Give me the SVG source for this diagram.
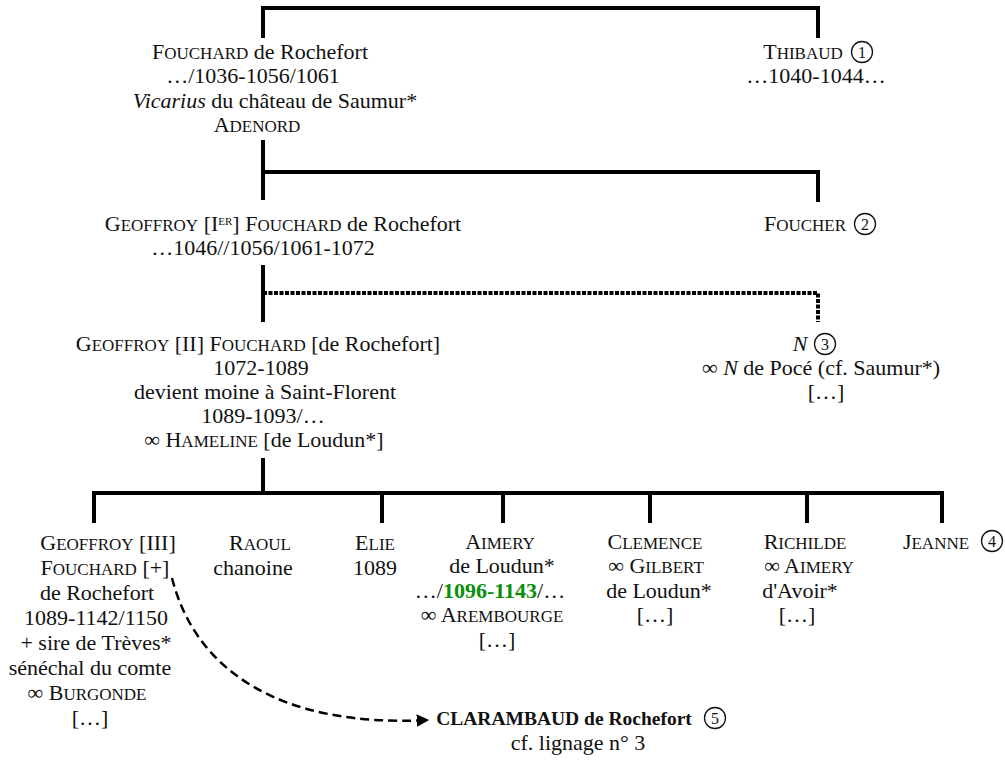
<svg xmlns="http://www.w3.org/2000/svg" width="1005" height="760" viewBox="0 0 1005 760">
<defs>
<style>
text{font-family:"Liberation Serif","Times New Roman",serif;font-size:22px;fill:#111;text-anchor:middle}
.sc{font-size:17px}
.l{fill:none;stroke:#000;stroke-width:4}
.dot{fill:none;stroke:#000;stroke-width:4;stroke-dasharray:4 1.5}
.arr{fill:none;stroke:#000;stroke-width:2.5;stroke-dasharray:9 5}
.c{fill:none;stroke:#111;stroke-width:1.3}
text.cn{font-size:16px}
text.b{font-size:19.5px;font-weight:bold}
.g{fill:#0a8f0a;font-weight:bold}
</style>
<marker id="ah" viewBox="0 0 10 10" refX="9" refY="5" markerWidth="5" markerHeight="5" orient="auto" markerUnits="strokeWidth">
<path d="M0,0 L10,5 L0,10 z" fill="#000"/>
</marker>
</defs>
<rect width="1005" height="760" fill="#fff"/>
<g id="connectors">
<path class="l" d="M263,38 V8 H818 V38"/>
<path class="l" d="M263,140 V200 M263,172 H818 V202"/>
<path class="l" d="M263,265 V322"/>
<path class="dot" d="M263,293 H818 V322"/>
<path class="l" d="M263,458 V493 M94,523 V493 H942 V523 M382,493 V523 M503,493 V523 M650,493 V523 M807,493 V523"/>
<path class="arr" d="M172,578 C195,670 280,728 428,720" marker-end="url(#ah)"/>
</g>
<g id="n-fouchard">
<text x="260" y="59">F<tspan class="sc">OUCHARD</tspan> de Rochefort</text>
<text x="253" y="83">…/1036-1056/1061</text>
<text x="275" y="108"><tspan font-style="italic">Vicarius</tspan> du château de Saumur*</text>
<text x="257" y="132">A<tspan class="sc">DENORD</tspan></text>
</g>
<g id="n-thibaud">
<text x="803" y="59">T<tspan class="sc">HIBAUD</tspan></text>
<circle class="c" cx="862" cy="52" r="10.5"/><text class="cn" x="862" y="58">1</text>
<text x="816" y="83">…1040-1044…</text>
</g>
<g id="n-geoffroy1">
<text x="283" y="231">G<tspan class="sc">EOFFROY</tspan> [I<tspan font-size="11" baseline-shift="6">ER</tspan>] F<tspan class="sc">OUCHARD</tspan> de Rochefort</text>
<text x="263" y="255">…1046//1056/1061-1072</text>
</g>
<g id="n-foucher">
<text x="805" y="231">F<tspan class="sc">OUCHER</tspan></text>
<circle class="c" cx="865" cy="224" r="10.5"/><text class="cn" x="865" y="230">2</text>
</g>
<g id="n-geoffroy2">
<text x="258" y="351">G<tspan class="sc">EOFFROY</tspan> [II] F<tspan class="sc">OUCHARD</tspan> [de Rochefort]</text>
<text x="261" y="375">1072-1089</text>
<text x="265" y="399">devient moine à Saint-Florent</text>
<text x="263" y="423">1089-1093/…</text>
<text x="264" y="447">∞ H<tspan class="sc">AMELINE</tspan> [de Loudun*]</text>
</g>
<g id="n-n">
<text x="800" y="351" font-style="italic">N</text>
<circle class="c" cx="825" cy="344" r="10.5"/><text class="cn" x="825" y="350">3</text>
<text x="821" y="375">∞ <tspan font-style="italic">N</tspan> de Pocé (cf. Saumur*)</text>
<text x="826" y="399">[…]</text>
</g>
<g id="n-geoffroy3">
<text x="108" y="550">G<tspan class="sc">EOFFROY</tspan> [III]</text>
<text x="105" y="575">F<tspan class="sc">OUCHARD</tspan> [+]</text>
<text x="97" y="600">de Rochefort</text>
<text x="96" y="625">1089-1142/1150</text>
<text x="96" y="650">+ sire de Trèves*</text>
<text x="90" y="675">sénéchal du comte</text>
<text x="87" y="700">∞ B<tspan class="sc">URGONDE</tspan></text>
<text x="90" y="725">[…]</text>
</g>
<g id="n-raoul">
<text x="260" y="550">R<tspan class="sc">AOUL</tspan></text>
<text x="253" y="575">chanoine</text>
</g>
<g id="n-elie">
<text x="375" y="550">E<tspan class="sc">LIE</tspan></text>
<text x="375" y="575">1089</text>
</g>
<g id="n-aimery">
<text x="500" y="549">A<tspan class="sc">IMERY</tspan></text>
<text x="502" y="573">de Loudun*</text>
<text x="490" y="598">…/<tspan class="g">1096-1143</tspan>/…</text>
<text x="492" y="622">∞ A<tspan class="sc">REMBOURGE</tspan></text>
<text x="497" y="647">[…]</text>
</g>
<g id="n-clemence">
<text x="655" y="549">C<tspan class="sc">LEMENCE</tspan></text>
<text x="656" y="573">∞ G<tspan class="sc">ILBERT</tspan></text>
<text x="659" y="598">de Loudun*</text>
<text x="655" y="622">[…]</text>
</g>
<g id="n-richilde">
<text x="805" y="549">R<tspan class="sc">ICHILDE</tspan></text>
<text x="809" y="573">∞ A<tspan class="sc">IMERY</tspan></text>
<text x="800" y="598">d'Avoir*</text>
<text x="797" y="622">[…]</text>
</g>
<g id="n-jeanne">
<text x="936" y="549">J<tspan class="sc">EANNE</tspan></text>
<circle class="c" cx="992" cy="541" r="10.5"/><text class="cn" x="992" y="547">4</text>
</g>
<g id="n-clarambaud">
<text class="b" x="564" y="725">CLARAMBAUD de Rochefort</text>
<circle class="c" cx="715" cy="718" r="10.5"/><text class="cn" x="715" y="724">5</text>
<text x="578" y="750">cf. lignage n° 3</text>
</g>
</svg>
